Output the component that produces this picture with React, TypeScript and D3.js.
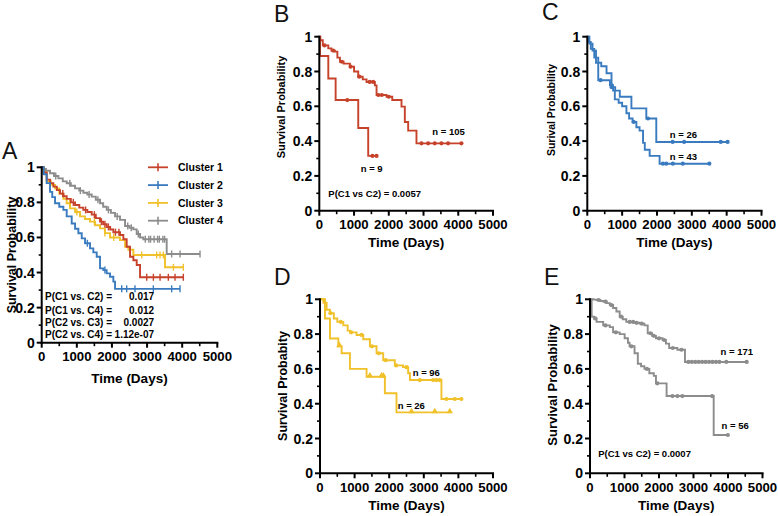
import React from "react";
import * as d3 from "d3";

type Step = [number, number];

// ---- Panel A: four clusters ----
const clusterNames = ["Cluster 1", "Cluster 2", "Cluster 3", "Cluster 4"];
const clusterColors = ["#C6422B", "#3A7BBF", "#F0C12A", "#8C8C8C"];

const a1Steps: Step[] = [[0,1],[50,0.97],[142,0.93],[240,0.91],[332,0.89],[430,0.87],[522,0.85],[620,0.835],[712,0.82],[830,0.8],[949,0.785],[1070,0.77],[1186,0.757],[1300,0.745],[1424,0.73],[1540,0.71],[1661,0.69],[1750,0.675],[1851,0.66],[1950,0.645],[2040,0.63],[2230,0.614],[2325,0.59],[2420,0.547],[2515,0.49],[2610,0.47],[2705,0.443],[2800,0.373]];
const a1Censor = [600, 900, 1250, 1500, 1700, 1800, 1900, 2100, 2200, 2990, 3180, 3370, 3606, 3796, 4033];

const a2Steps: Step[] = [[0,1],[60,0.96],[142,0.91],[237,0.86],[300,0.83],[380,0.795],[500,0.775],[617,0.757],[712,0.72],[854,0.68],[950,0.65],[1044,0.624],[1140,0.595],[1234,0.567],[1376,0.538],[1470,0.515],[1566,0.49],[1661,0.424],[1756,0.414],[1850,0.395],[1946,0.376],[2040,0.348],[2088,0.307]];
const a2Censor = [1300, 1800, 2278, 2420, 2657, 3179, 3701, 3938];

const a3Steps: Step[] = [[0,1],[60,0.97],[142,0.92],[260,0.9],[380,0.88],[500,0.85],[617,0.82],[710,0.795],[807,0.766],[950,0.745],[1091,0.72],[1230,0.705],[1376,0.69],[1520,0.67],[1661,0.652],[1800,0.625],[1946,0.6],[2230,0.585],[2373,0.547],[2467,0.53],[2610,0.5],[3511,0.43]];
const a3Censor = [800, 1000, 1500, 1800, 2050, 2847, 3274, 3369, 3464, 3750, 4033];

const a4Steps: Step[] = [[0,1],[60,0.99],[120,0.98],[237,0.966],[350,0.95],[475,0.937],[600,0.92],[712,0.909],[830,0.895],[949,0.88],[1070,0.867],[1186,0.855],[1300,0.845],[1424,0.833],[1540,0.815],[1661,0.795],[1750,0.775],[1851,0.757],[1970,0.74],[2088,0.72],[2230,0.7],[2373,0.665],[2500,0.655],[2610,0.646],[2705,0.62],[2800,0.6],[2894,0.59],[3559,0.506]];
const a4Censor = [400, 800, 1100, 1350, 1600, 1900, 2150, 2450, 2550, 2750, 2950, 3050, 3100, 3200, 3300, 3350, 3450, 3500, 3700, 3940, 4508];

const aPLabels = ["P(C1 vs. C2) =", "P(C1 vs. C4) =", "P(C2 vs. C3) =", "P(C2 vs. C4) ="];
const aPValues = ["0.017", "0.012", "0.0027", "1.12e-07"];

// ---- Panel B: cluster 1 subgroups ----
const bBigSteps: Step[] = [[0,1],[30,0.98],[100,0.95],[259,0.933],[350,0.92],[450,0.914],[520,0.88],[594,0.856],[700,0.845],[881,0.828],[1000,0.8],[1121,0.77],[1250,0.755],[1360,0.74],[1600,0.72],[1648,0.665],[1935,0.655],[2100,0.636],[2366,0.598],[2462,0.51],[2558,0.46],[2797,0.387]];
const bBigCensor = [150, 400, 650, 900, 1150, 1450, 1550, 1700, 1800, 2000, 2941, 3133, 3324, 3516, 3707, 4090];
const bSmallSteps: Step[] = [[0,1],[20,0.889],[259,0.76],[470,0.636],[1121,0.475],[1408,0.315]];
const bSmallCensor = [805, 1530, 1648];

// ---- Panel C: cluster 2 subgroups ----
const cUpSteps: Step[] = [[0,1],[60,0.96],[150,0.92],[250,0.85],[400,0.83],[552,0.79],[695,0.71],[800,0.69],[933,0.655],[1266,0.588],[1694,0.53],[1980,0.395]];
const cUpCensor = [700, 1742, 2450, 2780, 3830, 4027];
const cLowSteps: Step[] = [[0,1],[50,0.97],[100,0.93],[200,0.88],[314,0.75],[650,0.72],[740,0.69],[790,0.64],[900,0.62],[1000,0.6],[1123,0.56],[1200,0.53],[1300,0.51],[1409,0.48],[1500,0.46],[1600,0.39],[1650,0.35],[1790,0.315],[2075,0.27]];
const cLowCensor = [380, 700, 1330, 2170, 2266, 2456, 2742, 3503];

// ---- Panel D: cluster 3 subgroups ----
const dUpSteps: Step[] = [[0,1],[100,0.98],[192,0.94],[288,0.92],[400,0.89],[500,0.87],[673,0.85],[800,0.82],[865,0.81],[1058,0.795],[1250,0.77],[1442,0.73],[1635,0.69],[1827,0.65],[2163,0.62],[2400,0.61],[2548,0.575],[2600,0.536],[3510,0.427]];
const dUpCensor = [300, 600, 900, 1200, 1500, 1700, 1900, 2200, 2500, 2884, 3269, 3365, 3460, 3654, 3894, 4087];
const dLowSteps: Step[] = [[0,1],[144,0.89],[288,0.775],[529,0.73],[625,0.69],[865,0.6],[1346,0.555],[1875,0.46],[2211,0.35]];
const dLowCensor = [560, 1442, 1779, 1830, 2644, 3317, 3750];

// ---- Panel E: cluster 4 subgroups ----
const eUpSteps: Step[] = [[0,1],[100,0.998],[191,0.996],[300,0.99],[382,0.987],[480,0.978],[574,0.967],[670,0.95],[765,0.93],[860,0.9],[950,0.885],[1052,0.87],[1300,0.865],[1434,0.86],[1577,0.85],[1673,0.805],[1800,0.79],[1912,0.776],[2103,0.766],[2200,0.745],[2294,0.72],[2533,0.71],[2753,0.64]];
const eUpCensor = [250, 450, 620, 900, 1150, 1250, 1350, 1500, 1750, 1850, 2000, 2150, 2400, 2650, 2850, 2950, 3050, 3150, 3250, 3350, 3450, 3550, 3650, 3750, 3950, 4541];
const eLowSteps: Step[] = [[0,1],[48,0.9],[120,0.89],[191,0.87],[382,0.85],[574,0.84],[669,0.81],[860,0.8],[1004,0.776],[1100,0.75],[1147,0.73],[1291,0.69],[1386,0.63],[1480,0.615],[1577,0.6],[1720,0.575],[1850,0.56],[1912,0.517],[2220,0.444],[3585,0.22]];
const eLowCensor = [150, 450, 750, 1200, 1650, 1950, 2390, 2533, 2677, 3540, 3996];

const FONT = "'Liberation Sans', Arial, Helvetica, sans-serif";

interface Curve {
  steps: Step[];
  censor: number[];
  color: string;
  marker: "tick" | "dot" | "tri";
}

interface Note {
  text: string;
  t: number;
  s: number;
  anchor?: string;
}

interface PanelProps {
  x0: number;
  x1: number;
  yTop: number;
  yBottom: number;
  letter: string;
  letterX: number;
  letterY: number;
  yLabel: string;
  yLabelX: number;
  yLabelY: number;
  yLabelSize: number;
  xTitleOffset: number;
  curves: Curve[];
  notes: Note[];
  noteSize: number;
}

const survAt = (steps: Step[], t: number) => {
  let s = steps[0][1];
  for (const [st, sv] of steps) if (st <= t) s = sv;
  return s;
};

function KMPanel(p: PanelProps) {
  const x = d3.scaleLinear().domain([0, 5000]).range([p.x0, p.x1]);
  const y = d3.scaleLinear().domain([0, 1]).range([p.yBottom, p.yTop]);
  const line = d3
    .line<Step>()
    .x(d => x(d[0]))
    .y(d => y(d[1]))
    .curve(d3.curveStepAfter);
  const tri = d3.symbol().type(d3.symbolTriangle).size(18)() || "";

  const xMajor = x.ticks(5);
  const xMinor = x.ticks(10).filter(v => !xMajor.includes(v));
  const yMajor = y.ticks(5);
  const yMinor = y.ticks(10).filter(v => !yMajor.some(m => Math.abs(m - v) < 1e-9));

  return (
    <g fontFamily={FONT}>
      <text x={p.letterX} y={p.letterY} fontSize={23} fill="#111">
        {p.letter}
      </text>
      {p.curves.map((c, i) => {
        const end = Math.max(...c.censor, c.steps[c.steps.length - 1][0]);
        const pts: Step[] = [...c.steps, [end, c.steps[c.steps.length - 1][1]]];
        return (
          <g key={i}>
            <path d={line(pts) || ""} fill="none" stroke={c.color} strokeWidth={1.9} />
            {c.censor.map((t, j) => {
              const cx = x(t);
              const cy = y(survAt(c.steps, t));
              if (c.marker === "tick")
                return <line key={j} x1={cx} x2={cx} y1={cy - 3.5} y2={cy + 3.5} stroke={c.color} strokeWidth={1.4} />;
              if (c.marker === "tri")
                return <path key={j} d={tri} transform={`translate(${cx},${cy - 1})`} fill={c.color} />;
              return <circle key={j} cx={cx} cy={cy} r={2.1} fill={c.color} />;
            })}
          </g>
        );
      })}
      {/* axes */}
      <line x1={p.x0} x2={p.x0} y1={p.yTop - 1} y2={p.yBottom + 1} stroke="#000" strokeWidth={2} />
      <line x1={p.x0 - 1} x2={p.x1 + 1} y1={p.yBottom} y2={p.yBottom} stroke="#000" strokeWidth={2} />
      {yMajor.map(v => (
        <g key={"ym" + v}>
          <line x1={p.x0 - 5} x2={p.x0} y1={y(v)} y2={y(v)} stroke="#000" strokeWidth={2} />
          <text x={p.x0 - 7} y={y(v) + 5} textAnchor="end" fontSize={14} fontWeight="bold">
            {String(+v.toFixed(1))}
          </text>
        </g>
      ))}
      {yMinor.map(v => (
        <line key={"yn" + v} x1={p.x0 - 3} x2={p.x0} y1={y(v)} y2={y(v)} stroke="#000" strokeWidth={1.6} />
      ))}
      {xMajor.map(v => (
        <g key={"xm" + v}>
          <line x1={x(v)} x2={x(v)} y1={p.yBottom} y2={p.yBottom + 5} stroke="#000" strokeWidth={2} />
          <text x={x(v)} y={p.yBottom + 18.5} textAnchor="middle" fontSize={13.2} fontWeight="bold">
            {v}
          </text>
        </g>
      ))}
      {xMinor.map(v => (
        <line key={"xn" + v} x1={x(v)} x2={x(v)} y1={p.yBottom} y2={p.yBottom + 3.5} stroke="#000" strokeWidth={1.6} />
      ))}
      <text
        x={(p.x0 + p.x1) / 2}
        y={p.yBottom + p.xTitleOffset}
        textAnchor="middle"
        fontSize={13.5}
        fontWeight="bold"
      >
        Time (Days)
      </text>
      <text
        transform={`translate(${p.yLabelX},${p.yLabelY}) rotate(-90)`}
        textAnchor="middle"
        fontSize={p.yLabelSize}
        fontWeight="bold"
      >
        {p.yLabel}
      </text>
      {p.notes.map((n, i) => (
        <text
          key={i}
          x={x(n.t)}
          y={y(n.s)}
          textAnchor={n.anchor || "start"}
          fontSize={p.noteSize}
          fontWeight="bold"
          style={{ whiteSpace: "pre" }}
        >
          {n.text}
        </text>
      ))}
    </g>
  );
}

export default function App() {
  const aCurves: Curve[] = [
    { steps: a4Steps, censor: a4Censor, color: clusterColors[3], marker: "tick" },
    { steps: a3Steps, censor: a3Censor, color: clusterColors[2], marker: "tick" },
    { steps: a1Steps, censor: a1Censor, color: clusterColors[0], marker: "tick" },
    { steps: a2Steps, censor: a2Censor, color: clusterColors[1], marker: "tick" },
  ];
  const pRowS = [0.243, 0.166, 0.095, 0.027];
  const aNotes: Note[] = [
    ...aPLabels.map((t, i) => ({ text: t, t: 94, s: pRowS[i] })),
    ...aPValues.map((t, i) => ({ text: t, t: 3200, s: pRowS[i], anchor: "end" })),
  ];

  return (
    <svg
      width={778}
      height={516}
      style={{ position: "absolute", left: 0, top: 0, background: "#fff" }}
    >
      <rect width={778} height={516} fill="#fff" />
      <KMPanel
        x0={41.7} x1={217.3} yTop={167.3} yBottom={342.7}
        letter="A" letterX={2} letterY={159}
        yLabel="Survival Probability" yLabelX={16} yLabelY={255} yLabelSize={12.5}
        xTitleOffset={40}
        curves={aCurves} notes={aNotes} noteSize={10}
      />
      {/* legend for panel A */}
      <g fontFamily={FONT}>
        {clusterNames.map((n, i) => {
          const ly = 167.3 + i * 17.8;
          return (
            <g key={n}>
              <line x1={148} x2={168} y1={ly} y2={ly} stroke={clusterColors[i]} strokeWidth={1.8} />
              <line x1={158} x2={158} y1={ly - 4} y2={ly + 4} stroke={clusterColors[i]} strokeWidth={1.6} />
              <text x={178} y={ly + 3.6} fontSize={10.5} fontWeight="bold">
                {n}
              </text>
            </g>
          );
        })}
      </g>
      <KMPanel
        x0={319.3} x1={493} yTop={36.7} yBottom={210.7}
        letter="B" letterX={274} letterY={22}
        yLabel="Survival Probability" yLabelX={285} yLabelY={107} yLabelSize={11}
        xTitleOffset={36.5}
        curves={[
          { steps: bBigSteps, censor: bBigCensor, color: clusterColors[0], marker: "dot" },
          { steps: bSmallSteps, censor: bSmallCensor, color: clusterColors[0], marker: "dot" },
        ]}
        notes={[
          { text: "n = 105", t: 3253, s: 0.435 },
          { text: "n = 9", t: 1192, s: 0.222 },
          { text: "P(C1 vs C2) = 0.0057", t: 259, s: 0.079 },
        ]}
        noteSize={9.5}
      />
      <KMPanel
        x0={587.3} x1={761.5} yTop={36.7} yBottom={210.7}
        letter="C" letterX={542} letterY={20}
        yLabel="Surival Probability" yLabelX={555} yLabelY={110} yLabelSize={10.5}
        xTitleOffset={36.5}
        curves={[
          { steps: cLowSteps, censor: cLowCensor, color: clusterColors[1], marker: "dot" },
          { steps: cUpSteps, censor: cUpCensor, color: clusterColors[1], marker: "dot" },
        ]}
        notes={[
          { text: "n = 26", t: 2367, s: 0.415 },
          { text: "n = 43", t: 2367, s: 0.294 },
        ]}
        noteSize={9.5}
      />
      <KMPanel
        x0={320} x1={493} yTop={299.3} yBottom={473.3}
        letter="D" letterX={274} letterY={285}
        yLabel="Survival Probabity" yLabelX={287} yLabelY={386} yLabelSize={12.5}
        xTitleOffset={36.5}
        curves={[
          { steps: dUpSteps, censor: dUpCensor, color: clusterColors[2], marker: "dot" },
          { steps: dLowSteps, censor: dLowCensor, color: clusterColors[2], marker: "tri" },
        ]}
        notes={[
          { text: "n = 96", t: 2679, s: 0.559 },
          { text: "n = 26", t: 2246, s: 0.367 },
        ]}
        noteSize={9.5}
      />
      <KMPanel
        x0={590} x1={762.5} yTop={299.3} yBottom={473.3}
        letter="E" letterX={544} letterY={285}
        yLabel="Survival Probability" yLabelX={557} yLabelY={385} yLabelSize={13}
        xTitleOffset={36.5}
        curves={[
          { steps: eUpSteps, censor: eUpCensor, color: clusterColors[3], marker: "dot" },
          { steps: eLowSteps, censor: eLowCensor, color: clusterColors[3], marker: "dot" },
        ]}
        notes={[
          { text: "n = 171", t: 3784, s: 0.68 },
          { text: "n = 56", t: 3813, s: 0.257 },
          { text: "P(C1 vs C2) = 0.0007", t: 239, s: 0.091 },
        ]}
        noteSize={9.5}
      />
    </svg>
  );
}
